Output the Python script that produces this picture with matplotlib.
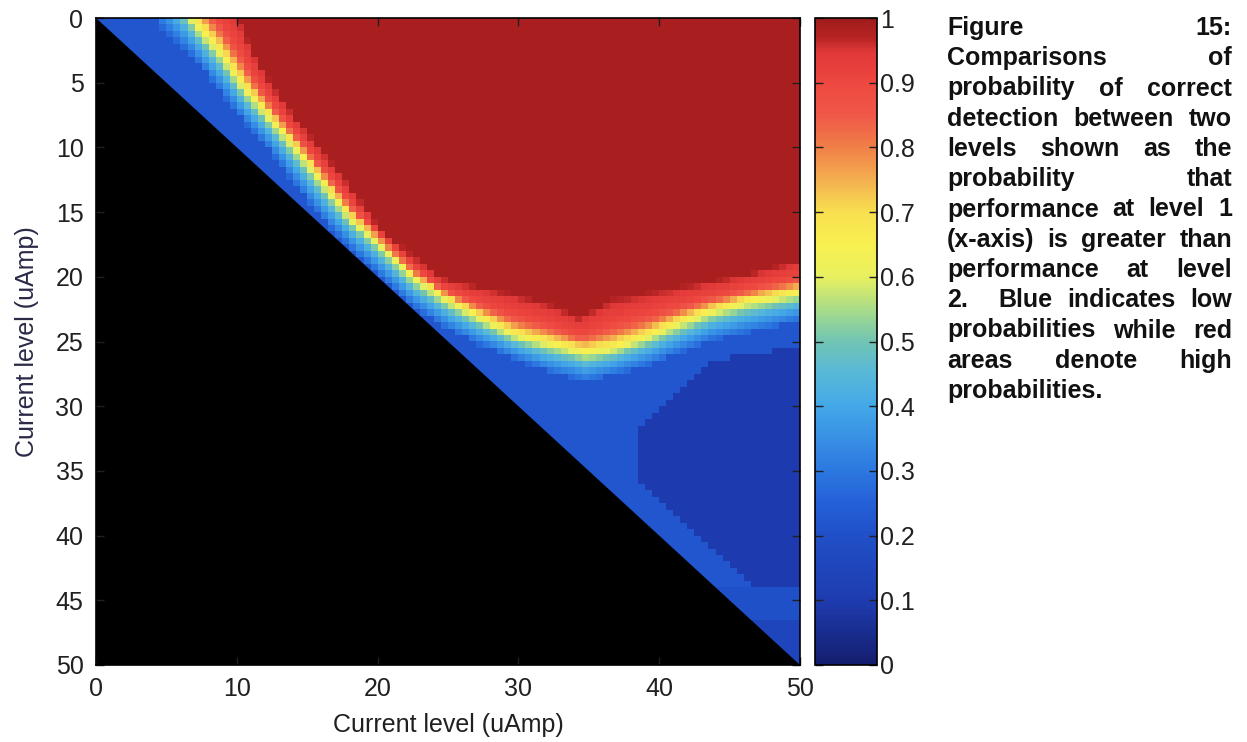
import numpy as np
import matplotlib
matplotlib.use('Agg')
import matplotlib.pyplot as plt
from matplotlib.colors import LinearSegmentedColormap
from matplotlib.patches import Polygon

matplotlib.rcParams['font.family'] = ['Liberation Sans', 'DejaVu Sans']
matplotlib.rcParams['xtick.labelsize'] = 18
matplotlib.rcParams['ytick.labelsize'] = 18
matplotlib.rcParams['axes.labelsize'] = 18

# current levels (uAmp), 0.5 uAmp bins
level_max = 50.0
n_bins = 100

# p ~ 0.62 ridge (yellow band): row level for each column level
ridge_x = [0, 2.5, 5, 7.1, 8.8, 10.4, 12.4, 14.4, 16.3, 18.2, 20.3, 22.5, 24.9,
           27.3, 29.6, 32.0, 34.8, 36.7, 39.1, 41.5, 43.8, 46.2, 50]
ridge_y = [-9, -6, -2.7, 0.5, 2.6, 5.2, 7.7, 10.3, 12.9, 15.5, 17.6, 20.0, 21.7,
           23.1, 24.4, 25.1, 25.8, 25.5, 24.6, 23.5, 22.6, 21.9, 21.2]
# edge of the saturated region (p ~ 0.97)
sat_x = [0, 5, 8, 10.1, 11.1, 12.5, 14.2, 16.1, 18.0, 19.6, 20.5, 23.7, 25.0,
         29.6, 32.0, 34.3, 36.7, 41.5, 46.2, 50]
sat_y = [-14, -8, -3, -0.1, 2.6, 5.2, 7.7, 10.3, 12.9, 15.5, 16.6, 19.5, 20.3,
         21.3, 22.0, 23.1, 21.7, 20.8, 19.8, 18.7]
# lower edge of the light blue shoulder (p ~ 0.27)
low_x = [0, 4.5, 6.7, 8.6, 10.5, 12.6, 14.4, 16.3, 18.2, 20.3, 22.5, 24.9,
         27.3, 32, 34.8, 39.1, 43.8, 50]
low_y = [-5, 0.5, 2.8, 5.4, 8.0, 10.6, 13.2, 15.8, 17.9, 20.1, 22.3, 24.0,
         25.3, 27.3, 28.1, 26.9, 24.9, 23.4]

# probability across the transitions (fraction of gap -> p)
hi_frac = [0.0, 0.2, 0.5, 0.7, 0.85, 1.0]
hi_prob = [0.975, 0.935, 0.90, 0.82, 0.72, 0.64]
lo_frac = [0.0, 0.2, 0.45, 0.7, 1.0]
lo_prob = [0.64, 0.55, 0.44, 0.36, 0.27]

# blue floor below the shoulder
floor_prob = 0.22
deep_x = [0, 37.9, 38.6, 44, 46, 50]
deep_y = [60, 60, 31.8, 26.4, 26.0, 25.5]
deep_prob = 0.10
deep_end = 44.0
band_x0, band_y0, band_y1, band_prob = 44.0, 44.0, 46.5, 0.20
tail_prob = 0.15
diag_margin = 2.5

# colour scale
cmap_pos = [0.0, 0.1, 0.2, 0.25, 0.3, 0.35, 0.4, 0.45, 0.5, 0.55, 0.6, 0.65,
            0.7, 0.75, 0.8, 0.85, 0.9, 0.95, 0.97, 1.0]
cmap_col = ['#141e6e', '#1e3cb0', '#2050c8', '#2460d8', '#2c78e0', '#3890e4',
            '#44a8e8', '#58b8d8', '#70c4b4', '#a8dc88', '#e8f060', '#f8f050',
            '#f8e050', '#f4b050', '#f08048', '#f05848', '#ee4840', '#e03838',
            '#b82424', '#a01c1c']

caption = ['Figure 15:',
           'Comparisons of',
           'probability of correct',
           'detection between two',
           'levels shown as the',
           'probability that',
           'performance at level 1',
           '(x-axis) is greater than',
           'performance at level',
           '2.  Blue indicates low',
           'probabilities while red',
           'areas denote high',
           'probabilities.']


def build_matrix():
    c = (np.arange(n_bins) + 0.5) * level_max / n_bins
    R, C = np.meshgrid(c, c, indexing='ij')
    ridge = np.interp(c, ridge_x, ridge_y)[None, :]
    sat = np.interp(c, sat_x, sat_y)[None, :]
    low = np.interp(c, low_x, low_y)[None, :]
    deep = np.interp(c, deep_x, deep_y)[None, :]
    ridge, sat, low, deep = [np.broadcast_to(a, R.shape) for a in (ridge, sat, low, deep)]

    P = np.full(R.shape, floor_prob)
    # deep blue pocket bottom right
    m = (R > deep) & (R < deep_end) & (C - R > diag_margin)
    P[m] = deep_prob
    m = (C > band_x0) & (R >= band_y0) & (R < band_y1)
    P[m] = band_prob
    m = (C > band_x0) & (R >= band_y1)
    P[m] = tail_prob
    # shoulder below the ridge
    m = (R > ridge) & (R <= low)
    f = (R[m] - ridge[m]) / (low[m] - ridge[m])
    P[m] = np.interp(f, lo_frac, lo_prob)
    # red side
    m = (R > sat) & (R <= ridge)
    f = (R[m] - sat[m]) / (ridge[m] - sat[m])
    P[m] = np.interp(f, hi_frac, hi_prob)
    P[R <= sat] = hi_prob[0] + 0.01
    return P


def justify(fig, lines, x0, x1, y0, dy, **kw):
    # word-by-word placement so each line fills [x0, x1]
    r = fig.canvas.get_renderer()
    W, H = fig.bbox.width, fig.bbox.height
    for i, line in enumerate(lines):
        tokens = line.split(' ')
        words = [w for w in tokens if w]
        # empty tokens from double spaces count as extra gaps
        slots = []
        n = 0
        for w in tokens[1:]:
            n += 1
            if w:
                slots.append(n)
                n = 0
        y = (y0 - i * dy) / H
        tt = [fig.text(0, y, w, va='baseline', ha='left', **kw) for w in words]
        ww = [t.get_window_extent(r).width for t in tt]
        if i == len(lines) - 1 or len(words) == 1:
            unit = 6
        else:
            unit = (x1 - x0 - sum(ww)) / sum(slots)
        x = x0
        for k, (t, w) in enumerate(zip(tt, ww)):
            t.set_x(x / W)
            if k < len(slots):
                x += w + unit * slots[k]


P = build_matrix()
cmap = LinearSegmentedColormap.from_list('pc', list(zip(cmap_pos, cmap_col)))

fig = plt.figure(figsize=(12.47, 7.42), dpi=100)
ax = fig.add_axes([96 / 1247, 77 / 742, 704 / 1247, 647 / 742])
im = ax.imshow(P, cmap=cmap, vmin=0, vmax=1, interpolation='nearest',
               extent=[0, level_max, level_max, 0], aspect='auto')
# lower triangle is not defined (level 2 >= level 1)
ax.add_patch(Polygon([[0, 0], [0, level_max], [level_max, level_max]],
                     closed=True, fc='k', ec='none'))
ax.set_xlim(0, level_max)
ax.set_ylim(level_max, 0)
ax.set_xticks(np.arange(0, 51, 10))
ax.set_yticks(np.arange(0, 51, 5))
ax.tick_params(direction='in', top=True, right=True, length=6, width=1,
               colors='#202020', pad=9)
for s in ax.spines.values():
    s.set_linewidth(1.2)
ax.set_xlabel('Current level (uAmp)', color='#202020', labelpad=8)
ax.set_ylabel('Current level (uAmp)', color='#2a2a48', labelpad=12)

cax = fig.add_axes([815 / 1247, 77 / 742, 62 / 1247, 647 / 742])
cb = fig.colorbar(im, cax=cax, ticks=np.arange(0, 1.01, 0.1))
cb.ax.set_yticklabels(['0'] + ['%.1f' % v for v in np.arange(0.1, 0.95, 0.1)] + ['1'])
cb.ax.tick_params(direction='in', left=True, right=True, length=6, width=1,
                  colors='#202020', pad=2)
cb.outline.set_linewidth(1.2)

justify(fig, caption, 947, 1232, 742 - 35, 30.25,
        fontsize=18, fontweight='bold', color='#111111')

fig.savefig('out.png', dpi=100)
